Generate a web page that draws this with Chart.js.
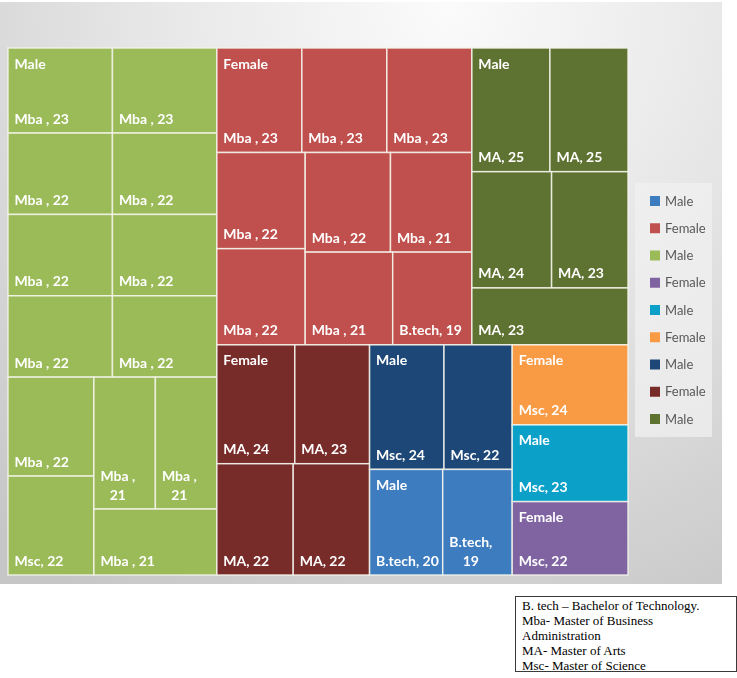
<!DOCTYPE html>
<html>
<head>
<meta charset="utf-8">
<script src="https://cdn.jsdelivr.net/npm/chart.js@4.4.1/dist/chart.umd.min.js"></script>
<style>
  html, body { margin: 0; padding: 0; background: #ffffff; width: 737px; height: 678px; overflow: hidden; }
  #panel { position: absolute; left: 0; top: 2px; width: 722px; height: 582px;
    background: radial-gradient(ellipse 95% 120% at 62% 0%, #fbfbfb 0%, #e6e6e6 45%, #c6c6c6 100%); }
  #wrap { position: absolute; left: 0; top: 0; width: 722px; height: 585px; }
  #note { position: absolute; left: 515px; top: 596px; width: 208px; height: 73px;
    border: 1px solid #3a3a3a; padding: 1px 6px 0 6px;
    font-family: "Liberation Serif", "Times New Roman", serif; font-size: 13px; line-height: 15px; color: #000; }
</style>
</head>
<body>
<div id="panel"></div>
<div id="wrap"><canvas id="c" width="722" height="585"></canvas></div>
<div id="note">B. tech – Bachelor of Technology.<br>Mba- Master of Business<br>Administration<br>MA- Master of Arts<br>Msc- Master of Science</div>
<script>
// ---------------- DATA ----------------
// series (legend order)
const groupLabels = ['Male', 'Female', 'Male', 'Female', 'Male', 'Female', 'Male', 'Female', 'Male'];

// categories of each cell, per series
const cats0 = ['B.tech', 'B.tech'];
const cats1 = ['Mba ', 'Mba ', 'Mba ', 'Mba ', 'Mba ', 'Mba ', 'Mba ', 'Mba ', 'B.tech'];
const cats2 = ['Mba ', 'Mba ', 'Mba ', 'Mba ', 'Mba ', 'Mba ', 'Mba ', 'Mba ', 'Mba ', 'Msc', 'Mba ', 'Mba ', 'Mba '];
const cats3 = ['Msc'];
const cats4 = ['Msc'];
const cats5 = ['Msc'];
const cats6 = ['Msc', 'Msc'];
const cats7 = ['MA', 'MA', 'MA', 'MA'];
const cats8 = ['MA', 'MA', 'MA', 'MA', 'MA'];

// values of each cell, per series
const vals0 = [20, 19];
const vals1 = [23, 23, 23, 22, 22, 22, 21, 21, 19];
const vals2 = [23, 23, 22, 22, 22, 22, 22, 22, 22, 22, 21, 21, 21];
const vals3 = [22];
const vals4 = [23];
const vals5 = [24];
const vals6 = [24, 22];
const vals7 = [24, 23, 22, 22];
const vals8 = [25, 25, 24, 23, 23];

const groupCats = [cats0, cats1, cats2, cats3, cats4, cats5, cats6, cats7, cats8];
const groupValues = [vals0, vals1, vals2, vals3, vals4, vals5, vals6, vals7, vals8];

// ---------------- STYLE / LAYOUT CONFIG ----------------
const groupColors = ['#3E7CC0', '#C0504D', '#9BBB59', '#8064A2', '#0BA0C8', '#F99A45', '#1D4776', '#772C2A', '#5E7231'];
// number of cells per strip (Excel's strip grouping) where it differs from plain squarify
const topPlan = [1, 2, 1, 2, 1, 1, 1];
const groupPlans = [null, null, [2, 2, 2, 2, 2, 2, 1], null, null, null, null, null, null];

const LABEL_FONT = 'bold 14px Lato, "Open Sans", sans-serif';
const LEGEND_FONT = '13px Lato, "Open Sans", sans-serif';

// ---------------- SQUARIFIED LAYOUT ----------------
function squarify(items, w, h, plan) {
  const out = [];
  let r = { x: 0, y: 0, w: w, h: h };
  let i = 0, p = 0;
  const sum = arr => arr.reduce((a, b) => a + b.v, 0);
  while (i < items.length) {
    const rest = sum(items.slice(i));
    const unit = (r.w * r.h) / rest;
    const vertical = r.w >= r.h;
    const side = vertical ? r.h : r.w;
    const worst = k => {
      const row = items.slice(i, i + k);
      const t = sum(row) * unit / side;
      let m = 0;
      row.forEach(o => { const l = o.v * unit / t; m = Math.max(m, l / t, t / l); });
      return m;
    };
    let k;
    if (plan && plan[p] != null) { k = plan[p++]; }
    else { k = 1; while (i + k < items.length && worst(k + 1) <= worst(k)) k++; }
    k = Math.min(k, items.length - i);
    const row = items.slice(i, i + k);
    const t = sum(row) * unit / side;
    let off = 0;
    row.forEach(o => {
      const l = o.v * unit / t;
      out.push(vertical
        ? { ref: o.ref, x: r.x, y: r.y + off, w: t, h: l }
        : { ref: o.ref, x: r.x + off, y: r.y, w: l, h: t });
      off += l;
    });
    r = vertical ? { x: r.x + t, y: r.y, w: r.w - t, h: r.h } : { x: r.x, y: r.y + t, w: r.w, h: r.h - t };
    i += k;
  }
  return out;
}

function wrapText(ctx, text, maxW) {
  const words = text.split(' ');
  const lines = [];
  let cur = '';
  words.forEach(wd => {
    const test = cur ? cur + ' ' + wd : wd;
    if (cur && ctx.measureText(test).width > maxW) { lines.push(cur); cur = wd; }
    else cur = test;
  });
  if (cur) lines.push(cur);
  return lines;
}

const treemapPlugin = {
  id: 'treemap',
  afterDatasetsDraw(chart) {
    const { ctx, chartArea: ca, scales: { x, y } } = chart;
    const W = ca.width, H = ca.height;
    const ds = chart.data.datasets;
    const groups = ds.map((d, gi) => ({ v: d.treeValues.reduce((a, b) => a + b, 0), ref: gi }))
      .sort((a, b) => b.v - a.v);
    const gRects = squarify(groups, W, H, topPlan);
    ctx.save();
    gRects.forEach(g => {
      const d = ds[g.ref];
      const items = d.treeValues.map((v, j) => ({ v: v, ref: j })).sort((a, b) => b.v - a.v);
      const leaves = squarify(items, g.w, g.h, d.rowPlan);
      leaves.forEach((L, n) => {
        const x0 = x.getPixelForValue((g.x + L.x) / W);
        const x1 = x.getPixelForValue((g.x + L.x + L.w) / W);
        const y0 = y.getPixelForValue((g.y + L.y) / H);
        const y1 = y.getPixelForValue((g.y + L.y + L.h) / H);
        ctx.fillStyle = d.backgroundColor;
        ctx.fillRect(x0, y0, x1 - x0, y1 - y0);
        ctx.strokeStyle = 'rgba(245,245,235,0.85)';
        ctx.lineWidth = 1.5;
        ctx.strokeRect(x0, y0, x1 - x0, y1 - y0);

        ctx.fillStyle = '#ffffff';
        ctx.font = LABEL_FONT;
        ctx.textBaseline = 'middle';
        ctx.textAlign = 'left';
        const pad = 6.5;
        if (n === 0) ctx.fillText(d.label, x0 + pad, y0 + 16);
        const txt = d.treeCats[L.ref] + ', ' + d.treeValues[L.ref];
        const lines = wrapText(ctx, txt, (x1 - x0) - 7.5);
        const blockW = Math.max(...lines.map(s => ctx.measureText(s).width));
        lines.forEach((s, li) => {
          const lw = ctx.measureText(s).width;
          const cy = y1 - 14 - (lines.length - 1 - li) * 19;
          ctx.fillText(s, x0 + pad + (blockW - lw) / 2, cy);
        });
      });
    });
    ctx.restore();
  }
};

const sideLegendPlugin = {
  id: 'sideLegend',
  afterDraw(chart) {
    const { ctx, chartArea: ca } = chart;
    const bx = ca.right + 7, by = 183, bw = 77, bh = 254;
    ctx.save();
    ctx.fillStyle = 'rgba(240,240,240,0.75)';
    ctx.fillRect(bx, by, bw, bh);
    ctx.font = LEGEND_FONT;
    ctx.textBaseline = 'middle';
    ctx.textAlign = 'left';
    chart.data.datasets.forEach((d, i) => {
      const cy = by + 18 + i * 27.25;
      ctx.fillStyle = d.backgroundColor;
      ctx.fillRect(bx + 15, cy - 5, 10, 10);
      ctx.fillStyle = '#595959';
      ctx.fillText(d.label, bx + 30, cy + 0.5);
    });
    ctx.restore();
  }
};

const datasets = groupLabels.map((lab, i) => ({
  label: lab,
  data: [],
  treeCats: groupCats[i],
  treeValues: groupValues[i],
  rowPlan: groupPlans[i],
  backgroundColor: groupColors[i]
}));

new Chart(document.getElementById('c'), {
  type: 'scatter',
  data: { datasets: datasets },
  options: {
    responsive: false,
    animation: false,
    events: [],
    layout: { padding: { left: 8, top: 48, right: 94, bottom: 10 } },
    scales: {
      x: { type: 'linear', min: 0, max: 1, display: false },
      y: { type: 'linear', min: 0, max: 1, reverse: true, display: false }
    },
    plugins: { legend: { display: false }, tooltip: { enabled: false } }
  },
  plugins: [treemapPlugin, sideLegendPlugin]
});
</script>
</body>
</html>
